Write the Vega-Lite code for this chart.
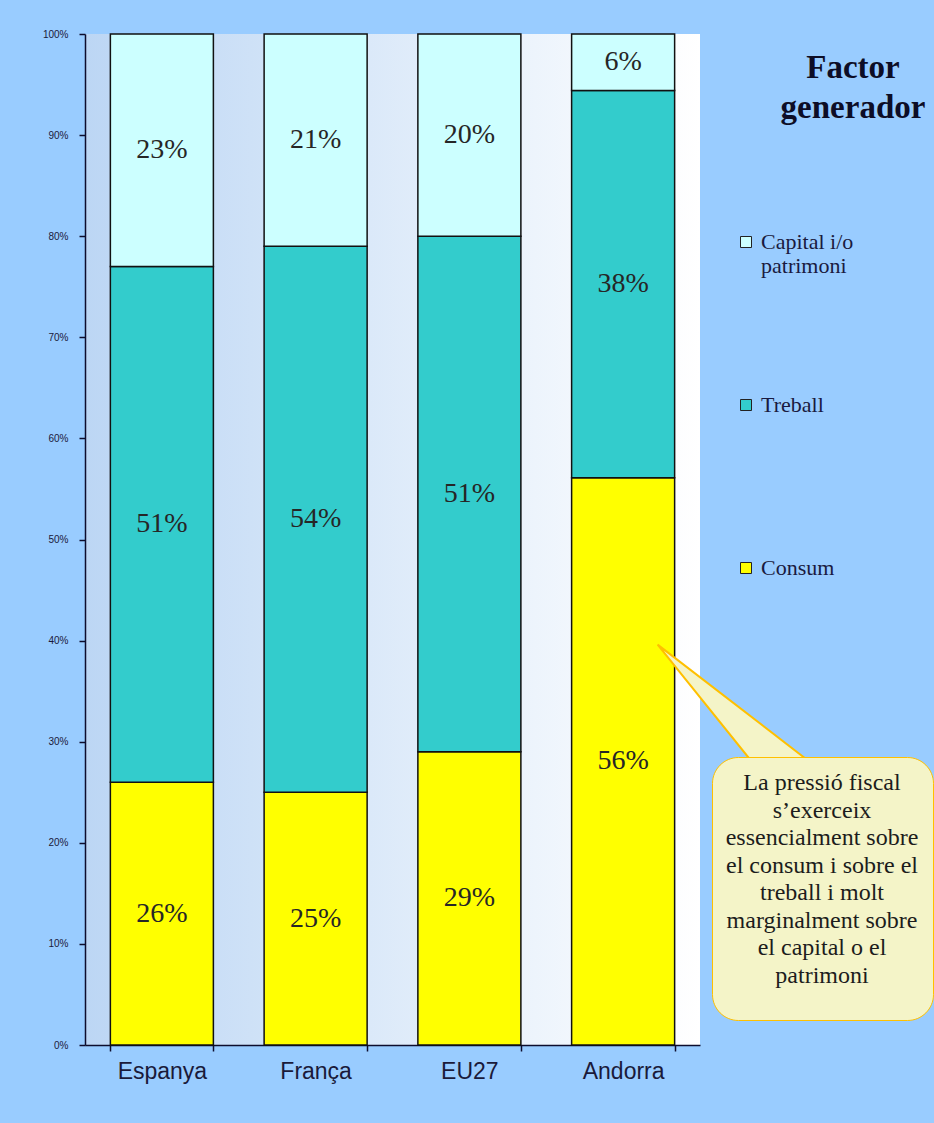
{
  "$schema": "https://vega.github.io/schema/vega-lite/v6.json",
  "width": 615,
  "height": 1011,
  "autosize": {"type": "none"},
  "padding": {"left": 85, "top": 34, "right": 234, "bottom": 78},
  "background": "#99CCFF",
  "datasets": {
    "pressio": [
      {"pais": "Espanya", "factor": "Consum", "ordre": 1, "valor": 0.26},
      {"pais": "Espanya", "factor": "Treball", "ordre": 2, "valor": 0.51},
      {"pais": "Espanya", "factor": "Capital i/o patrimoni", "ordre": 3, "valor": 0.23},
      {"pais": "França", "factor": "Consum", "ordre": 1, "valor": 0.25},
      {"pais": "França", "factor": "Treball", "ordre": 2, "valor": 0.54},
      {"pais": "França", "factor": "Capital i/o patrimoni", "ordre": 3, "valor": 0.21},
      {"pais": "EU27", "factor": "Consum", "ordre": 1, "valor": 0.29},
      {"pais": "EU27", "factor": "Treball", "ordre": 2, "valor": 0.51},
      {"pais": "EU27", "factor": "Capital i/o patrimoni", "ordre": 3, "valor": 0.20},
      {"pais": "Andorra", "factor": "Consum", "ordre": 1, "valor": 0.561},
      {"pais": "Andorra", "factor": "Treball", "ordre": 2, "valor": 0.383},
      {"pais": "Andorra", "factor": "Capital i/o patrimoni", "ordre": 3, "valor": 0.056}
    ],
    "nota": [
      {"pais": "Andorra", "valor": 0.396, "nota": "La pressió fiscal s’exerceix essencialment sobre el consum i sobre el treball i molt marginalment sobre el capital o el patrimoni"}
    ]
  },
  "config": {
    "view": {
      "stroke": null,
      "fill": {
        "gradient": "linear",
        "x1": 0, "y1": 0, "x2": 1, "y2": 0,
        "stops": [
          {"offset": 0, "color": "#BCD6F4"},
          {"offset": 1, "color": "#FFFFFF"}
        ]
      }
    }
  },
  "layer": [
    {
      "data": {"name": "pressio"},
      "transform": [
        {"stack": "valor", "groupby": ["pais"], "sort": [{"field": "ordre", "order": "ascending"}], "as": ["v0", "v1"]}
      ],
      "mark": {"type": "bar", "stroke": "#111111", "strokeWidth": 1.5},
      "encoding": {
        "x": {
          "field": "pais", "type": "nominal",
          "sort": ["Espanya", "França", "EU27", "Andorra"],
          "scale": {"paddingInner": 0.33, "paddingOuter": 0.165},
          "axis": {
            "title": null, "labelAngle": 0, "tickBand": "extent",
            "tickSize": 6, "tickWidth": 1.5, "tickColor": "#0d0d2d",
            "domainColor": "#0d0d2d", "domainWidth": 1.5,
            "labelFont": "Liberation Sans, Arial",
            "labelFontSize": 23, "labelColor": "#1a1a3a", "labelPadding": 9
          }
        },
        "y": {
          "field": "v0", "type": "quantitative",
          "scale": {"domain": [0, 1]},
          "axis": {
            "title": null, "grid": false, "format": ".0%",
            "values": [0, 0.1, 0.2, 0.3, 0.4, 0.5, 0.6, 0.7, 0.8, 0.9, 1],
            "tickSize": 6, "tickWidth": 1.5, "tickColor": "#0d0d2d",
            "domainColor": "#0d0d2d", "domainWidth": 1.5,
            "labelFont": "Liberation Sans, Arial",
            "labelFontSize": 10, "labelColor": "#1a1a3a", "labelPadding": 11
          }
        },
        "y2": {"field": "v1"},
        "color": {
          "field": "factor", "type": "nominal",
          "scale": {
            "domain": ["Capital i/o patrimoni", "Treball", "Consum"],
            "range": ["#CCFFFF", "#33CCCC", "#FFFF00"]
          },
          "legend": {
            "title": ["Factor", "generador"],
            "orient": "none", "legendX": 650, "legendY": 18,
            "titleFont": "Liberation Serif", "titleFontSize": 33, "titleFontWeight": "bold",
            "titleColor": "#0d0d26", "titleAlign": "center", "titleAnchor": "end",
            "titleLineHeight": 40, "titlePadding": 106, "titleLimit": 400,
            "labelFont": "Liberation Serif", "labelFontSize": 22, "labelColor": "#1a1a40",
            "labelExpr": "datum.label == 'Capital i/o patrimoni' ? ['Capital i/o', 'patrimoni'] : datum.label",
            "labelLimit": 300, "labelOffset": 4,
            "symbolType": "square", "symbolSize": 121, "symbolStrokeColor": "#222222", "symbolStrokeWidth": 1,
            "gridAlign": "all", "rowPadding": 117, "padding": 0
          }
        }
      }
    },
    {
      "data": {"name": "pressio"},
      "transform": [
        {"stack": "valor", "groupby": ["pais"], "sort": [{"field": "ordre", "order": "ascending"}], "as": ["v0", "v1"]},
        {"fold": ["v0", "v1"], "as": ["extrem", "pos"]},
        {"aggregate": [{"op": "mean", "field": "pos", "as": "mig"}], "groupby": ["pais", "factor", "valor"]}
      ],
      "mark": {"type": "text", "font": "Liberation Serif", "fontSize": 28, "color": "#262626", "baseline": "middle"},
      "encoding": {
        "x": {"field": "pais", "type": "nominal", "sort": ["Espanya", "França", "EU27", "Andorra"]},
        "y": {"field": "mig", "type": "quantitative"},
        "text": {"field": "valor", "type": "quantitative", "format": ".0%"}
      }
    },
    {
      "data": {"name": "nota"},
      "mark": {"type": "point", "filled": true, "size": 90000, "fill": "#F4F4C8", "stroke": "#FFC000", "strokeWidth": 2, "opacity": 1},
      "encoding": {
        "x": {"field": "pais", "type": "nominal", "sort": ["Espanya", "França", "EU27", "Andorra"]},
        "y": {"field": "valor", "type": "quantitative"},
        "shape": {
          "field": "nota", "type": "nominal",
          "scale": {"range": ["M0.23,0L0.85,0.77L1.23,0.77Z"]},
          "legend": {
            "title": ["La pressió fiscal", "s’exerceix", "essencialment sobre", "el consum i sobre el", "treball i molt", "marginalment sobre", "el capital o el", "patrimoni"],
            "orient": "none", "legendX": 627, "legendY": 723,
            "titleFont": "Liberation Serif", "titleFontSize": 24, "titleFontWeight": "normal",
            "titleColor": "#1c1c1c", "titleAlign": "center", "titleAnchor": "middle",
            "titleLineHeight": 27.5, "titleLimit": 400, "titlePadding": 0,
            "labelExpr": "''", "labelFontSize": 18, "symbolSize": 0, "symbolOpacity": 0, "symbolStrokeWidth": 0,
            "padding": 14, "fillColor": "#F4F4C8", "strokeColor": "#FFC000", "cornerRadius": 26
          }
        }
      }
    }
  ]
}
